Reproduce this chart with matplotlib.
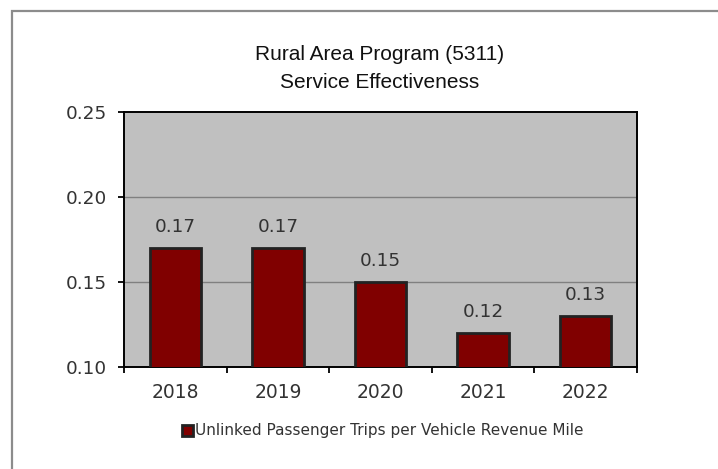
import matplotlib.pyplot as plt
import matplotlib.patches as mpatches
import numpy as np

years = ["2018", "2019", "2020", "2021", "2022"]
trips_per_mile = [0.17, 0.17, 0.15, 0.12, 0.13]
value_labels = ["0.17", "0.17", "0.15", "0.12", "0.13"]
y_ticks = [0.10, 0.15, 0.20, 0.25]
title_lines = ["Rural Area Program (5311)", "Service Effectiveness"]
series_name = "Unlinked Passenger Trips per Vehicle Revenue Mile"

plt.rcParams["font.family"] = ["DejaVu Sans"]

W, H = 718, 469
fig = plt.figure(figsize=(W / 100, H / 100), dpi=100)

# outer chart border (runs off the right and bottom edges)
fig.patches.append(mpatches.Rectangle(
    (12 / W, -10 / H), 720 / W, (H - 11 + 10) / H, transform=fig.transFigure,
    facecolor="none", edgecolor="#8c8c8c", linewidth=1.6))

ax = fig.add_axes((124 / W, 102 / H, 513 / W, 255 / H))
ax.set_facecolor("#c0c0c0")

x = np.arange(len(years))
ax.bar(x, trips_per_mile, width=0.5, color="#800000",
       edgecolor="#222222", linewidth=2, zorder=3, label=series_name)

for xi, val, lab in zip(x, trips_per_mile, value_labels):
    ax.text(xi, val + 0.0068, lab, ha="center", va="bottom", fontsize=13.3,
            color="#333333", zorder=4)

ax.set_xlim(-0.5, len(years) - 0.5)
ax.set_ylim(0.10, 0.25)
ax.set_yticks(y_ticks)
ax.set_yticklabels([f"{t:.2f}" for t in y_ticks], fontsize=13.3,
                   color="#333333")
for t in y_ticks[1:-1]:
    ax.axhline(t, color="#808080", linewidth=1, zorder=1)

ax.set_xticks(x)
ax.set_xticklabels(years, fontsize=13.5, color="#333333")
ax.tick_params(axis="x", length=0, pad=11.5)
ax.set_xticks(np.arange(len(years) + 1) - 0.5, minor=True)
ax.tick_params(axis="x", which="minor", length=4.5, width=1.3,
               direction="out")
ax.tick_params(axis="y", length=4.5, width=1.3, direction="out", pad=8)

for s in ax.spines.values():
    s.set_color("black")
    s.set_linewidth(1.4)

fig.text(380 / W, 1 - 60 / H, title_lines[0], ha="center",
         va="baseline", fontsize=15, family="Liberation Sans",
         color="#111111")
fig.text(380 / W, 1 - 88 / H, title_lines[1], ha="center",
         va="baseline", fontsize=15, family="Liberation Sans",
         color="#111111")

fig.legend(loc="center", bbox_to_anchor=(383 / W, 1 - 431 / H),
           frameon=False, fontsize=11, handlelength=0.7,
           handleheight=0.7, handletextpad=0.15, labelcolor="#333333")

fig.savefig("out.png", dpi=100)
